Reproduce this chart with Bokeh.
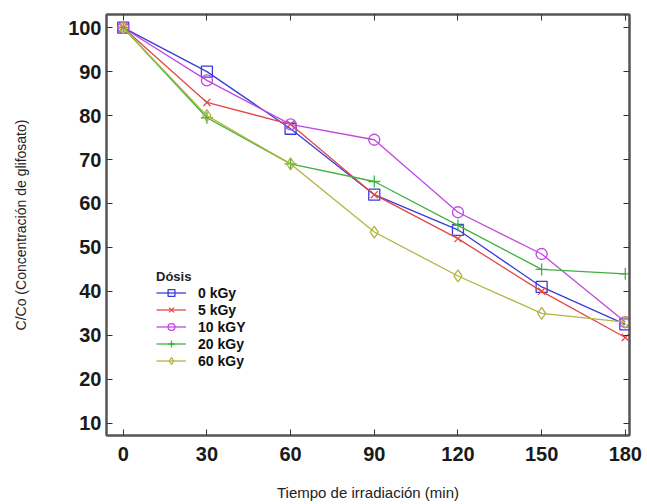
from bokeh.plotting import figure
from bokeh.models import LinearAxis, Range1d, FixedTicker, Legend, LegendItem, CustomJSTickFormatter
from bokeh.embed import file_html
from bokeh.resources import INLINE

tiempo = [0, 30, 60, 90, 120, 150, 180]
dosis_0 = [100, 90, 77, 62, 54, 41, 32.5]
dosis_5 = [100, 83, 78, 62, 52, 40, 29.5]
dosis_10 = [100, 88, 78, 74.5, 58, 48.5, 33]
dosis_20 = [100, 79.5, 69, 65, 55, 45, 44]
dosis_60 = [100, 80, 69, 53.5, 43.5, 35, 33]
labels = ["0 kGy", "5 kGy", "10 kGY", "20 kGy", "60 kGy"]
x_ticks = [0, 30, 60, 90, 120, 150, 180]
y_ticks = [10, 20, 30, 40, 50, 60, 70, 80, 90, 100]

p = figure(width=647, height=504, output_backend="svg", toolbar_location=None,
           x_range=Range1d(-6, 181.5), y_range=Range1d(7.2, 103))
p.min_border_left = 106
p.min_border_right = 18
p.min_border_top = 14
p.min_border_bottom = 69
p.background_fill_color = "white"
p.border_fill_color = "white"
p.outline_line_color = "#555555"
p.outline_line_width = 2
p.xgrid.visible = False
p.ygrid.visible = False

def style_axis(ax, ticks, show_labels=True):
    ax.ticker = FixedTicker(ticks=ticks)
    ax.major_tick_in = 6
    ax.major_tick_out = 0
    ax.minor_tick_line_color = None
    ax.axis_line_color = "#555555"
    ax.axis_line_width = 2
    ax.major_tick_line_color = "#333333"
    ax.major_label_text_font = "Liberation Sans"
    ax.major_label_text_font_style = "bold"
    ax.major_label_text_font_size = "20px"
    ax.major_label_text_color = "#1a1a1a"
    if not show_labels:
        ax.formatter = CustomJSTickFormatter(code="return ''")
        ax.major_label_standoff = 0

style_axis(p.xaxis[0], x_ticks)
style_axis(p.yaxis[0], y_ticks)
p.xaxis[0].axis_label = "Tiempo de irradiación (min)"
p.yaxis[0].axis_label = "C/Co (Concentración de glifosato)"
for ax in (p.xaxis[0], p.yaxis[0]):
    ax.axis_label_text_font = "Liberation Sans"
    ax.axis_label_text_font_style = "normal"
    ax.axis_label_text_color = "#222222"
p.xaxis[0].axis_label_text_font_size = "15px"
p.yaxis[0].axis_label_text_font_size = "14px"
p.xaxis[0].major_label_standoff = 11
p.xaxis[0].axis_label_standoff = 20
p.yaxis[0].major_label_standoff = 5
p.yaxis[0].axis_label_standoff = 36

top = LinearAxis()
style_axis(top, x_ticks, show_labels=False)
p.add_layout(top, "above")
right = LinearAxis()
style_axis(right, y_ticks, show_labels=False)
p.add_layout(right, "right")

series = [dosis_0, dosis_5, dosis_10, dosis_20, dosis_60]
colors = ["#3b3bd8", "#e04848", "#c048e0", "#3cb43c", "#b4b442"]
markers = ["square", "x", "circle", "cross", "diamond"]
sizes = [11, 10, 11, 12, 12]

items = []
for vals, col, mk, sz, lab in zip(series, colors, markers, sizes, labels):
    l = p.line(tiempo, vals, line_color=col, line_width=1.3)
    s = p.scatter(tiempo, vals, marker=mk, size=sz, line_color=col,
                  fill_color=None, line_width=1.3)
    items.append(LegendItem(label=lab, renderers=[l, s]))

legend = Legend(items=items, location=(48, 64))
legend.title = "Dósis"
legend.title_text_font = "Liberation Sans"
legend.title_text_font_style = "bold"
legend.title_text_font_size = "13px"
legend.title_text_color = "#222222"
legend.title_standoff = 0
legend.label_text_font = "Liberation Sans"
legend.label_text_font_style = "bold"
legend.label_text_font_size = "14px"
legend.label_text_color = "#111111"
legend.label_height = 17
legend.glyph_height = 17
legend.glyph_width = 30
legend.label_standoff = 12
legend.spacing = 0
legend.padding = 2
legend.border_line_alpha = 0
legend.background_fill_alpha = 0
p.add_layout(legend, "center")

open("out.html", "w").write(file_html(p, INLINE))
